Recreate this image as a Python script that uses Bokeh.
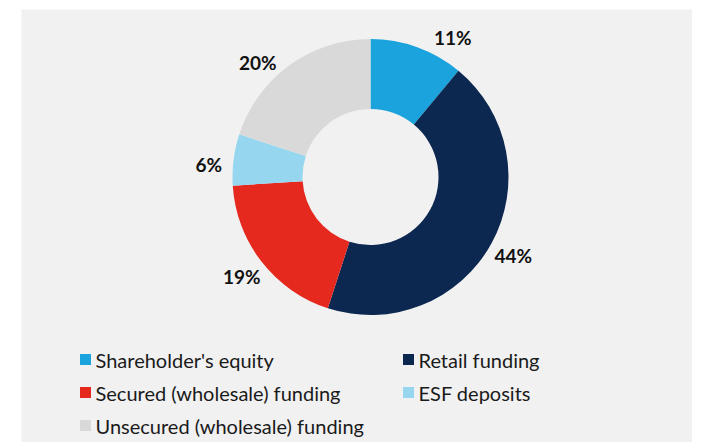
import math
from bokeh.plotting import figure
from bokeh.models import Range1d, ColumnDataSource
from bokeh.core.properties import value
from bokeh.embed import file_html
from bokeh.resources import INLINE

# ---- data ----
categories = ["Shareholder's equity", "Retail funding", "Secured (wholesale) funding",
              "ESF deposits", "Unsecured (wholesale) funding"]
shares = [11, 44, 19, 6, 20]
labels = ["11%", "44%", "19%", "6%", "20%"]
colors = ["#1aa3dc", "#0c2850", "#e6291e", "#96d6ef", "#d9d9d9"]

# ---- layout (picture-pixel based data coordinates, y up = H - page_y) ----
W, H = 692, 442
cx, cy = 370, H - 176.5
r_out, r_in = 138, 68
r_lab = 163
nudges = [(27, 14), (0, 0), (0, 0), (0, 8), (-17, 17)]  # label nudges (dx, dy_down) in px

p = figure(width=W, height=H, output_backend="svg", toolbar_location=None,
           x_range=Range1d(21, W), y_range=Range1d(0, H - 9),
           x_axis_type=None, y_axis_type=None)
p.min_border_left = 21
p.min_border_right = 0
p.min_border_top = 9
p.min_border_bottom = 0
p.grid.visible = False
p.outline_line_color = None
p.background_fill_color = "#f1f1f1"
p.border_fill_color = "white"

total = float(sum(shares))
starts, ends, lx, ly = [], [], [], []
cum = 0.0
for i, s in enumerate(shares):
    a0 = math.pi / 2 - 2 * math.pi * cum / total
    a1 = math.pi / 2 - 2 * math.pi * (cum + s) / total
    starts.append(a0)
    ends.append(a1)
    mid = (a0 + a1) / 2
    dx, dy = nudges[i]
    lx.append(cx + r_lab * math.cos(mid) + dx)
    ly.append(cy + r_lab * math.sin(mid) - dy)
    cum += s

src = ColumnDataSource(dict(start=starts, end=ends, color=colors, lx=lx, ly=ly, lab=labels))
p.annular_wedge(x=cx, y=cy, inner_radius=r_in, outer_radius=r_out,
                start_angle="start", end_angle="end", direction="clock",
                fill_color="color", line_color=None, source=src)
p.text(x="lx", y="ly", text="lab", source=src, text_font=value("Lato"),
       text_font_style="bold", text_font_size="19px", text_color="#111111",
       text_align="center", text_baseline="middle")

# legend (manual, two columns)
col_x = [85, 408]
row_y = [359, 392, 425]
leg_x, leg_y, leg_c, leg_t = [], [], [], []
for i, (c, col) in enumerate(zip(categories, colors)):
    leg_x.append(col_x[i % 2])
    leg_y.append(H - row_y[i // 2])
    leg_c.append(col)
    leg_t.append(c)
lsrc = ColumnDataSource(dict(x=leg_x, y=leg_y, c=leg_c, t=leg_t,
                             tx=[v + 10 for v in leg_x]))
p.rect(x="x", y="y", width=11, height=11, fill_color="c", line_color=None, source=lsrc)
p.text(x="tx", y="y", text="t", source=lsrc, text_font=value("Lato"),
       text_font_size="20px", text_color="#1a1a1a", text_align="left",
       text_baseline="middle")

open("out.html", "w").write(file_html(p, INLINE))
